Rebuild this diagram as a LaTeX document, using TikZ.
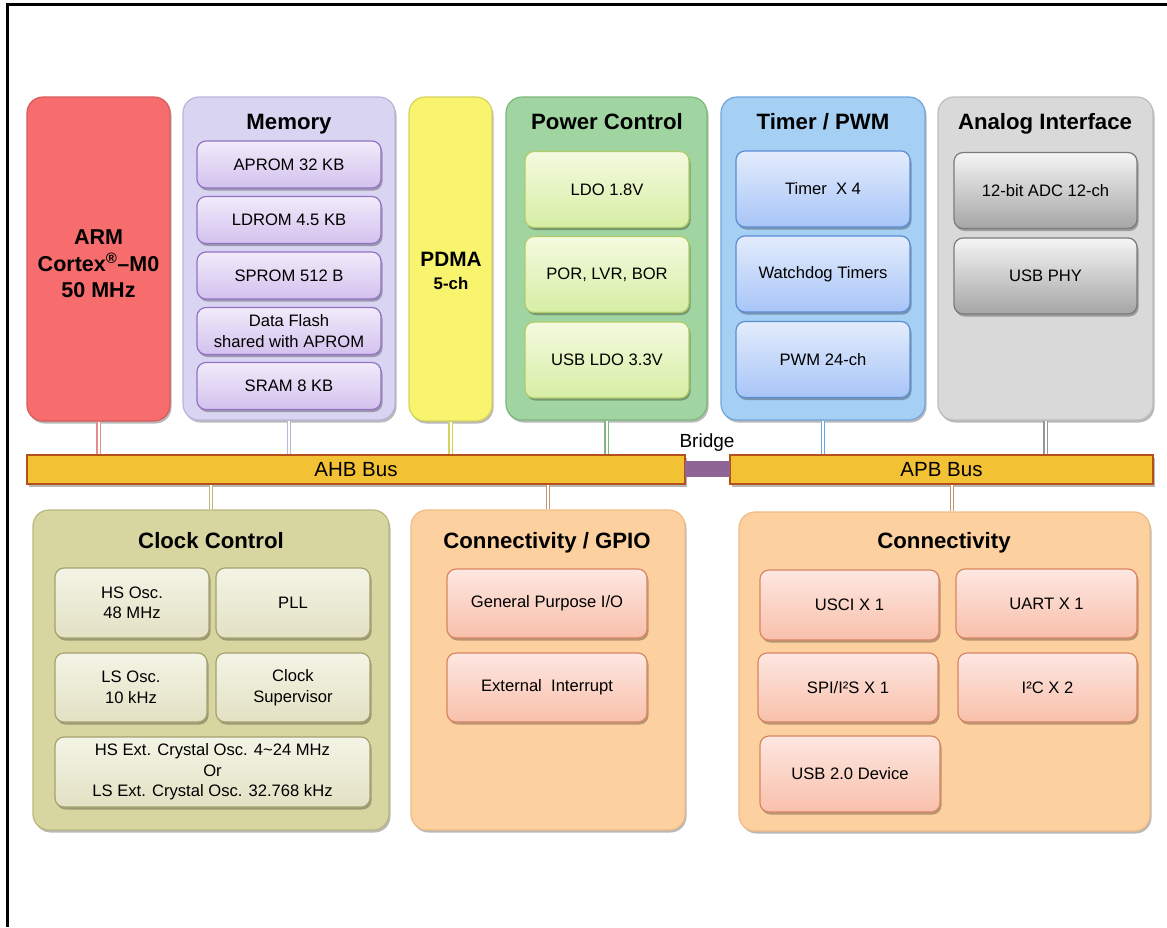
\documentclass[tikz,border=0pt]{standalone}
\usepackage{fontspec}
\setmainfont{Liberation Sans}
\usetikzlibrary{shadows}
\definecolor{armF}{HTML}{F76C6C}\definecolor{armD}{HTML}{D95C5C}
\definecolor{memF}{HTML}{D8D4F2}\definecolor{memD}{HTML}{B9B5DC}
\definecolor{memT}{HTML}{F1EBFA}\definecolor{memB}{HTML}{D3C1EE}\definecolor{memE}{HTML}{9272C4}
\definecolor{pdF}{HTML}{F8F46E}\definecolor{pdD}{HTML}{D6D35C}
\definecolor{pwF}{HTML}{A0D4A0}\definecolor{pwD}{HTML}{7CB87C}
\definecolor{pwT}{HTML}{F4FADF}\definecolor{pwB}{HTML}{D6EEA4}\definecolor{pwE}{HTML}{B2CC6A}
\definecolor{tmF}{HTML}{A5CFF3}\definecolor{tmD}{HTML}{6FA6DC}
\definecolor{tmT}{HTML}{E3ECFC}\definecolor{tmB}{HTML}{A8C5F8}\definecolor{tmE}{HTML}{5B8DD3}
\definecolor{anF}{HTML}{D9D9D9}\definecolor{anD}{HTML}{BDBDBD}
\definecolor{anT}{HTML}{F5F5F5}\definecolor{anB}{HTML}{A5A5A5}\definecolor{anE}{HTML}{7A7A7A}
\definecolor{ckF}{HTML}{D7D6A0}\definecolor{ckD}{HTML}{BAB77E}
\definecolor{ckT}{HTML}{F4F4E6}\definecolor{ckB}{HTML}{E2E1C3}\definecolor{ckE}{HTML}{A5A170}
\definecolor{orF}{HTML}{FDD09F}\definecolor{orD}{HTML}{F0BC84}
\definecolor{orT}{HTML}{FDE7E1}\definecolor{orB}{HTML}{F9C0AB}\definecolor{orE}{HTML}{D98563}
\definecolor{busF}{HTML}{F3C234}\definecolor{busD}{HTML}{B5501C}
\definecolor{brF}{HTML}{8F6596}
\begin{document}
\begin{tikzpicture}[x=1pt,y=-1pt,
  shd/.style={drop shadow={shadow xshift=1.5pt,shadow yshift=-2.5pt,opacity=0.28,fill=black}},
  cont/.style={rounded corners=16pt, line width=1.2pt, inner sep=0pt, shd},
  ibox/.style={rounded corners=9pt, line width=1.2pt, inner sep=0pt, align=center,
     font=\fontsize{16.6}{20.5}\selectfont, shd},
  ttl/.style={font=\bfseries\fontsize{22.2}{25}\selectfont, inner sep=0pt, text height=16pt, text depth=4.5pt},
  memi/.style={ibox, top color=memT, bottom color=memB, draw=memE},
  pwi/.style={ibox, top color=pwT, bottom color=pwB, draw=pwE},
  tmi/.style={ibox, top color=tmT, bottom color=tmB, draw=tmE},
  ani/.style={ibox, top color=anT, bottom color=anB, draw=anE},
  cki/.style={ibox, top color=ckT, bottom color=ckB, draw=ckE},
  ori/.style={ibox, top color=orT, bottom color=orB, draw=orE},
  bus/.style={draw=busD, fill=busF, line width=1.2pt, inner sep=0pt, font=\fontsize{20.5}{23}\selectfont, shd},
  link/.style={draw=#1, double=white, double distance=2pt, line width=1.4pt}
]
\useasboundingbox (0,0) rectangle (1167,927);
\draw[line width=3pt] (7,927) -- (7,4) -- (1167,4);

% ---- top row containers
\node[cont, fill=armF, draw=armD, minimum width=143pt, minimum height=324pt] (arm) at (98.5,259) {};
\node[align=center, inner sep=0pt, font=\bfseries\fontsize{21.5}{26.5}\selectfont] (armt) at (98.5,264) {ARM\\Cortex\textsuperscript{®}–M0\\50 MHz};
\node[cont, fill=memF, draw=memD, minimum width=212pt, minimum height=323pt] (mem) at (289,258.5) {};
\node[cont, fill=pdF, draw=pdD, minimum width=83pt, minimum height=324pt] (pdma) at (450.5,259) {};
\node[cont, fill=pwF, draw=pwD, minimum width=201pt, minimum height=323pt] (pwr) at (606.5,258.5) {};
\node[cont, fill=tmF, draw=tmD, minimum width=204pt, minimum height=323pt] (tmr) at (823,258.5) {};
\node[cont, fill=anF, draw=anD, minimum width=215pt, minimum height=323pt] (ana) at (1045.5,258.5) {};

\node[ttl] (memt) at (289,123.5) {Memory};
\node[ttl] (pwrt) at (607,123.5) {Power Control};
\node[ttl] (tmrt) at (823,123.5) {Timer / PWM};
\node[ttl] (anat) at (1045,123.5) {Analog Interface};
\node[font=\bfseries\fontsize{20.8}{24}\selectfont, inner sep=0pt] (pdmat) at (451,259) {PDMA};
\node[font=\bfseries\fontsize{16.8}{20}\selectfont, inner sep=0pt] (pdmac) at (451,283) {5-ch};

% memory
\node[memi, minimum width=184pt, minimum height=47pt] (aprom) at (289,164.5) {APROM 32 KB};
\node[memi, minimum width=184pt, minimum height=47pt] (ldrom) at (289,220) {LDROM 4.5 KB};
\node[memi, minimum width=184pt, minimum height=47pt] (sprom) at (289,275.5) {SPROM 512 B};
\node[memi, minimum width=184pt, minimum height=47pt] (dflash) at (289,331) {Data Flash\\shared with APROM};
\node[memi, minimum width=184pt, minimum height=47pt] (sram) at (289,386) {SRAM 8 KB};
% power
\node[pwi, minimum width=164pt, minimum height=76pt] (ldo) at (607,189.5) {LDO 1.8V};
\node[pwi, minimum width=164pt, minimum height=76pt] (por) at (607,274.5) {POR, LVR, BOR};
\node[pwi, minimum width=164pt, minimum height=76pt] (uldo) at (607,360) {USB LDO 3.3V};
% timer
\node[tmi, minimum width=174pt, minimum height=76pt] (tim) at (823,189) {Timer~~X 4};
\node[tmi, minimum width=174pt, minimum height=76pt] (wdt) at (823,274) {Watchdog Timers};
\node[tmi, minimum width=174pt, minimum height=76pt] (pwm) at (823,359.5) {PWM 24-ch};
% analog
\node[ani, minimum width=183pt, minimum height=76pt] (adc) at (1045.5,190.5) {12-bit ADC 12-ch};
\node[ani, minimum width=183pt, minimum height=76pt] (phy) at (1045.5,276) {USB PHY};

% ---- buses
\node[bus, minimum width=658pt, minimum height=29pt] (ahb) at (356,469.5) {AHB Bus};
\node[bus, minimum width=423pt, minimum height=29pt] (apb) at (941.5,469.5) {APB Bus};
\node[fill=brF, inner sep=0pt, minimum width=45pt, minimum height=16pt] (bridge) at (707.5,469) {};
\node[font=\fontsize{19}{22}\selectfont, inner sep=0pt] (bridget) at (707,443) {Bridge};

% ---- bottom containers
\node[cont, fill=ckF, draw=ckD, minimum width=356pt, minimum height=320pt] (clk) at (211,670) {};
\node[cont, fill=orF, draw=orD, minimum width=274pt, minimum height=320pt] (gpio) at (548,670) {};
\node[cont, fill=orF, draw=orD, minimum width=411pt, minimum height=319pt] (con) at (944.5,671.5) {};
\node[ttl] (clkt) at (211,542.5) {Clock Control};
\node[ttl] (gpiot) at (547,542.5) {Connectivity / GPIO};
\node[ttl] (cont) at (944,543) {Connectivity};

% clock
\node[cki, minimum width=154pt, minimum height=70pt] (hso) at (132,603) {HS Osc.\\48 MHz};
\node[cki, minimum width=154pt, minimum height=70pt] (pll) at (293,603) {PLL};
\node[cki, minimum width=152pt, minimum height=69pt] (lso) at (131,687.5) {LS Osc.\\10 kHz};
\node[cki, minimum width=154pt, minimum height=69pt] (csup) at (293,687.5) {Clock\\Supervisor};
\node[cki, minimum width=315pt, minimum height=70pt] (xtal) at (212.5,772) {HS Ext. Crystal Osc. 4\textasciitilde 24 MHz\\Or\\LS Ext. Crystal Osc. 32.768 kHz};
% gpio
\node[ori, minimum width=200pt, minimum height=69pt] (gpo) at (547,603.5) {General Purpose I/O};
\node[ori, minimum width=200pt, minimum height=69pt] (eint) at (547,687.5) {External~~Interrupt};
% connectivity
\node[ori, minimum width=179pt, minimum height=70pt] (usci) at (849.5,605) {USCI X 1};
\node[ori, minimum width=181pt, minimum height=69pt] (uart) at (1046.5,603.5) {UART X 1};
\node[ori, minimum width=180pt, minimum height=69pt] (spi) at (848,687.5) {SPI/I²S X 1};
\node[ori, minimum width=179pt, minimum height=69pt] (i2c) at (1047.5,687.5) {I²C X 2};
\node[ori, minimum width=180pt, minimum height=76pt] (usbd) at (850,774) {USB 2.0 Device};

% ---- links
\draw[link=armD!70] (arm.south) -- (arm.south |- ahb.north);
\draw[link=memD] (mem.south) -- (mem.south |- ahb.north);
\draw[link=pdD] (pdma.south) -- (pdma.south |- ahb.north);
\draw[link=pwD] (pwr.south) -- (pwr.south |- ahb.north);
\draw[link=tmD] (tmr.south) -- (tmr.south |- apb.north);
\draw[link=anD!80!black] (ana.south) -- (ana.south |- apb.north);
\draw[link=ckD] (clk.north) -- (clk.north |- ahb.south);
\draw[link=orD!80!black] (gpio.north) -- (gpio.north |- ahb.south);
\draw[link=orD!80!black] ([xshift=7.5pt]con.north) -- ([xshift=7.5pt]con.north |- apb.south);
\end{tikzpicture}
\end{document}
